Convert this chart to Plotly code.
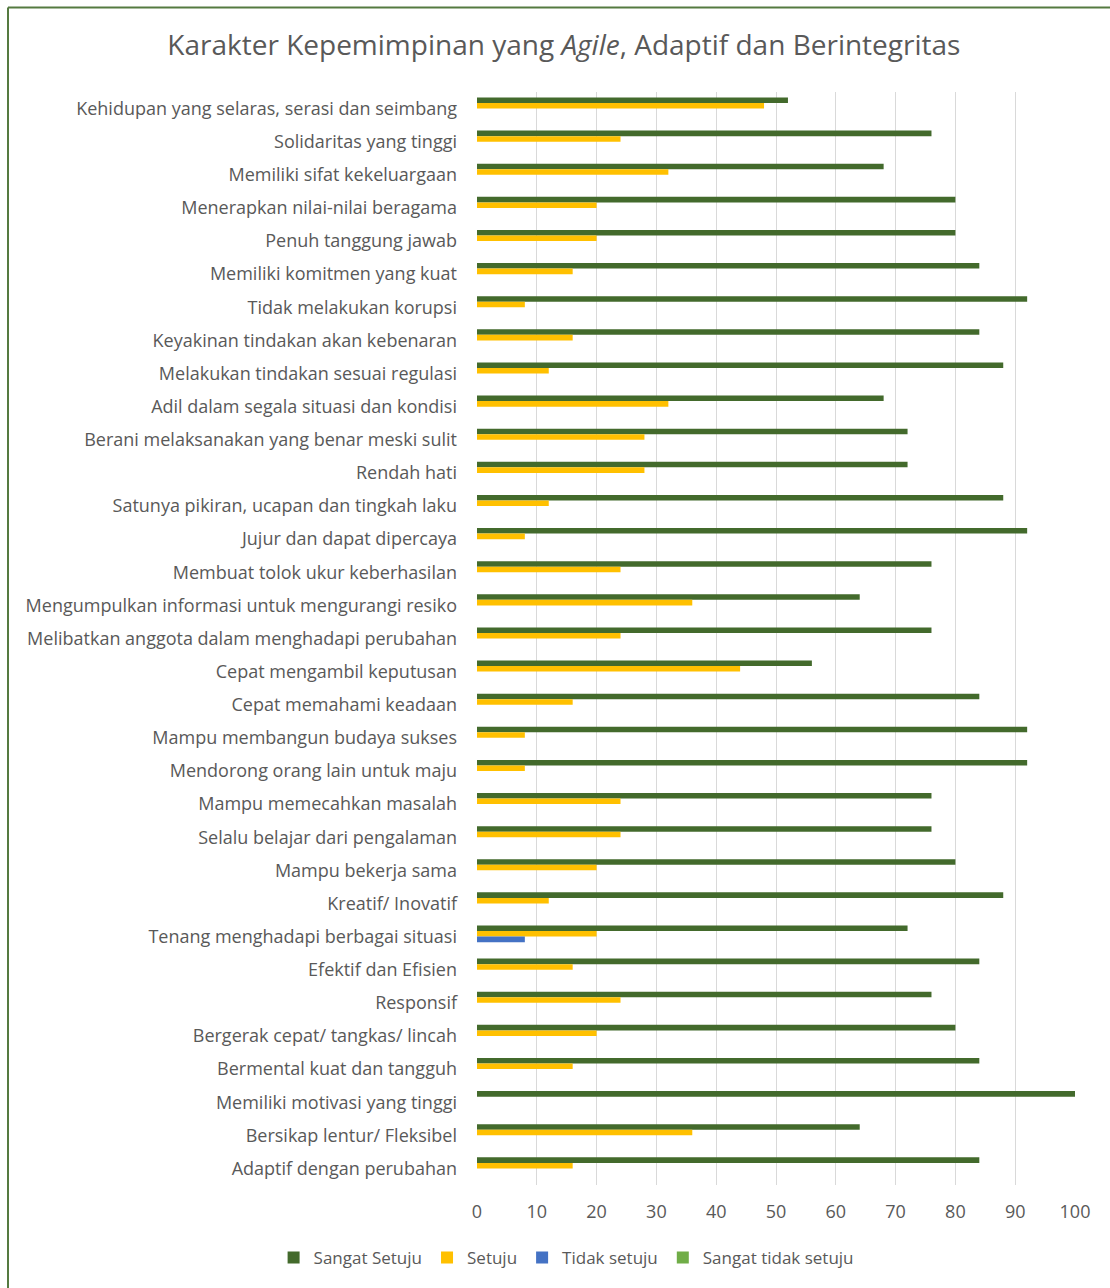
import plotly.graph_objects as go

categories = [
    "Kehidupan yang selaras, serasi dan seimbang",
    "Solidaritas yang tinggi",
    "Memiliki sifat kekeluargaan",
    "Menerapkan nilai-nilai beragama",
    "Penuh tanggung jawab",
    "Memiliki komitmen yang kuat",
    "Tidak melakukan korupsi",
    "Keyakinan tindakan akan kebenaran",
    "Melakukan tindakan sesuai regulasi",
    "Adil dalam segala situasi dan kondisi",
    "Berani melaksanakan yang benar meski sulit",
    "Rendah hati",
    "Satunya pikiran, ucapan dan tingkah laku",
    "Jujur dan dapat dipercaya",
    "Membuat tolok ukur keberhasilan",
    "Mengumpulkan informasi untuk mengurangi resiko",
    "Melibatkan anggota dalam menghadapi perubahan",
    "Cepat mengambil keputusan",
    "Cepat memahami keadaan",
    "Mampu membangun budaya sukses",
    "Mendorong orang lain untuk maju",
    "Mampu memecahkan masalah",
    "Selalu belajar dari pengalaman",
    "Mampu bekerja sama",
    "Kreatif/ Inovatif",
    "Tenang menghadapi berbagai situasi",
    "Efektif dan Efisien",
    "Responsif",
    "Bergerak cepat/ tangkas/ lincah",
    "Bermental kuat dan tangguh",
    "Memiliki motivasi yang tinggi",
    "Bersikap lentur/ Fleksibel",
    "Adaptif dengan perubahan",
]

sangat_setuju = [52, 76, 68, 80, 80, 84, 92, 84, 88, 68, 72, 72, 88, 92, 76, 64, 76, 56,
                 84, 92, 92, 76, 76, 80, 88, 72, 84, 76, 80, 84, 100, 64, 84]
setuju = [48, 24, 32, 20, 20, 16, 8, 16, 12, 32, 28, 28, 12, 8, 24, 36, 24, 44,
          16, 8, 8, 24, 24, 20, 12, 20, 16, 24, 20, 16, 0, 36, 16]
tidak_setuju = [0] * 25 + [8] + [0] * 7
sangat_tidak_setuju = [0] * 33

series = [
    ("Sangat Setuju", sangat_setuju, "#436a2c"),
    ("Setuju", setuju, "#ffc000"),
    ("Tidak setuju", tidak_setuju, "#4472c4"),
    ("Sangat tidak setuju", sangat_tidak_setuju, "#70ad47"),
]

x_ticks = list(range(0, 101, 10))

font_family = "'Open Sans', 'Noto Sans', sans-serif"
grey = "#595959"

fig = go.Figure()
for name, vals, color in series:
    fig.add_trace(go.Bar(
        y=categories, x=vals, name=name, orientation="h",
        marker=dict(color=color, line=dict(width=0)),
    ))

W, H = 1110, 1288
ml, mr, mt, mb = 477, 35, 92, 103
pw, ph = W - ml - mr, H - mt - mb

def px_x(p):
    return (p - ml) / pw

def px_y(p):
    return (H - mb - p) / ph

border = "#557a40"
fig.add_shape(type="line", xref="paper", yref="paper",
              x0=px_x(8), x1=px_x(1112), y0=px_y(7.5), y1=px_y(7.5),
              line=dict(color=border, width=2))
fig.add_shape(type="line", xref="paper", yref="paper",
              x0=px_x(8), x1=px_x(8), y0=px_y(7.5), y1=px_y(1290),
              line=dict(color=border, width=2))

fig.update_layout(
    width=W, height=H,
    margin=dict(l=ml, r=mr, t=mt, b=mb, autoexpand=False),
    paper_bgcolor="white", plot_bgcolor="white",
    barmode="group", bargap=0.33, bargroupgap=0,
    font=dict(family=font_family, color=grey, size=17),
    title=dict(
        text="Karakter Kepemimpinan yang <i>Agile</i>, Adaptif dan Berintegritas",
        x=0.508, xanchor="center", xref="container",
        y=1 - 45 / H, yanchor="middle", yref="container",
        font=dict(family=font_family, size=28, color=grey),
    ),
    legend=dict(
        orientation="h", xref="container", yref="container",
        x=0.51, xanchor="center", y=1 - 1258 / H, yanchor="middle",
        font=dict(size=17, color=grey), traceorder="normal",
        itemwidth=30, entrywidthmode="pixels",
    ),
    xaxis=dict(
        range=[0, 100], tickvals=x_ticks, ticktext=[str(v) for v in x_ticks],
        showgrid=True, gridcolor="#d9d9d9", gridwidth=1,
        zeroline=False, showline=False, ticks="",
        tickfont=dict(size=18, color=grey), ticklabelstandoff=14,
    ),
    yaxis=dict(
        autorange="reversed", showgrid=False, zeroline=False, showline=False,
        ticks="", tickfont=dict(size=18, color=grey), ticklabelstandoff=19,
    ),
)

fig.write_html("out.html")
